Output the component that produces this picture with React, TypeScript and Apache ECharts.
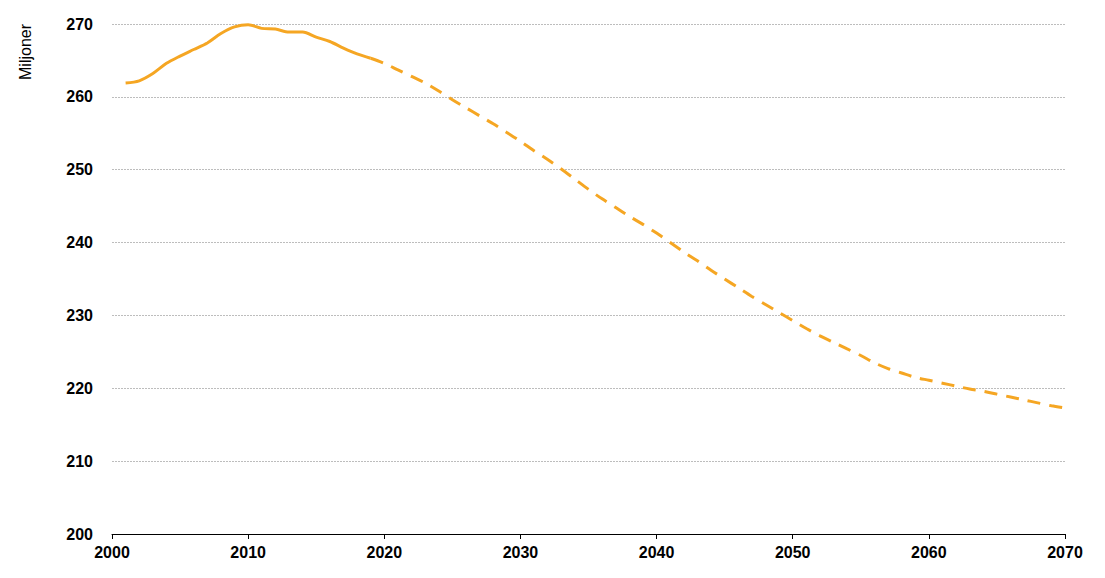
import React, { useEffect, useRef } from "react";
import * as echarts from "echarts";

const histYears = [2001, 2002, 2003, 2004, 2005, 2006, 2007, 2008, 2009, 2010, 2011, 2012, 2013, 2014, 2015, 2016, 2017, 2018, 2019];
const histValues = [261.9, 262.2, 263.2, 264.6, 265.6, 266.5, 267.4, 268.7, 269.6, 269.9, 269.4, 269.3, 268.9, 268.9, 268.2, 267.6, 266.7, 265.9, 265.3];

const projYears = [
  2019, 2020, 2021, 2022, 2023, 2024, 2025, 2026, 2027, 2028, 2029,
  2030, 2031, 2032, 2033, 2034, 2035, 2036, 2037, 2038, 2039,
  2040, 2041, 2042, 2043, 2044, 2045, 2046, 2047, 2048, 2049,
  2050, 2051, 2052, 2053, 2054, 2055, 2056, 2057, 2058, 2059,
  2060, 2061, 2062, 2063, 2064, 2065, 2066, 2067, 2068, 2069, 2070,
];
const projValues = [
  265.3, 264.6, 263.7, 262.8, 261.9, 260.8, 259.6, 258.5, 257.4, 256.3, 255.1,
  253.9, 252.6, 251.4, 250.1, 248.7, 247.3, 246.0, 244.8, 243.6, 242.5,
  241.3, 240.0, 238.7, 237.5, 236.2, 235.0, 233.8, 232.6, 231.5, 230.4,
  229.3, 228.2, 227.2, 226.3, 225.4, 224.5, 223.5, 222.7, 222.1, 221.5,
  221.1, 220.7, 220.3, 219.9, 219.6, 219.2, 218.8, 218.4, 218.0, 217.6, 217.3,
];

const yAxisTitle = "Miljoner";
const lineColor = "#F5A623";

export default function App() {
  const ref = useRef<HTMLDivElement>(null);

  useEffect(() => {
    if (!ref.current) return;
    const chart = echarts.init(ref.current, null, { renderer: "svg" });
    const font = "Arial, 'Liberation Sans', sans-serif";
    chart.setOption({
      animation: false,
      backgroundColor: "#ffffff",
      textStyle: { fontFamily: font },
      grid: { left: 112, right: 40, top: 24, bottom: 44, containLabel: false },
      graphic: [
        {
          type: "text",
          x: 25,
          y: 52,
          rotation: Math.PI / 2,
          style: {
            text: yAxisTitle,
            fontFamily: font,
            fontSize: 16,
            fill: "#000",
            textAlign: "center",
            textVerticalAlign: "middle",
          },
        },
      ],
      xAxis: {
        type: "value",
        min: 2000,
        max: 2070,
        interval: 10,
        axisLine: { show: true, lineStyle: { color: "#000", width: 1 } },
        axisTick: { show: true, length: 5, inside: false, lineStyle: { color: "#000" } },
        axisLabel: {
          color: "#000",
          fontSize: 16,
          fontWeight: "bold",
          margin: 10,
          fontFamily: font,
          formatter: (v: number) => String(v),
        },
        splitLine: { show: false },
      },
      yAxis: {
        type: "value",
        min: 200,
        max: 270,
        interval: 10,
        axisLine: { show: false },
        axisTick: { show: false },
        axisLabel: { color: "#000", fontSize: 16, fontWeight: "bold", margin: 19, fontFamily: font },
        splitLine: { show: true, lineStyle: { color: "#bdbdbd", type: [2, 1], width: 1 } },
      },
      series: [
        {
          type: "line",
          data: histYears.map((y, i) => [y, histValues[i]]),
          smooth: 0.3,
          showSymbol: false,
          lineStyle: { color: lineColor, width: 3 },
        },
        {
          type: "line",
          data: projYears.map((y, i) => [y, projValues[i]]),
          smooth: 0.3,
          showSymbol: false,
          lineStyle: { color: lineColor, width: 3, type: [13, 9] },
        },
      ],
    });
    return () => chart.dispose();
  }, []);

  return (
    <div
      ref={ref}
      style={{ position: "fixed", left: 0, top: 0, width: 1105, height: 578, background: "#fff" }}
    />
  );
}
